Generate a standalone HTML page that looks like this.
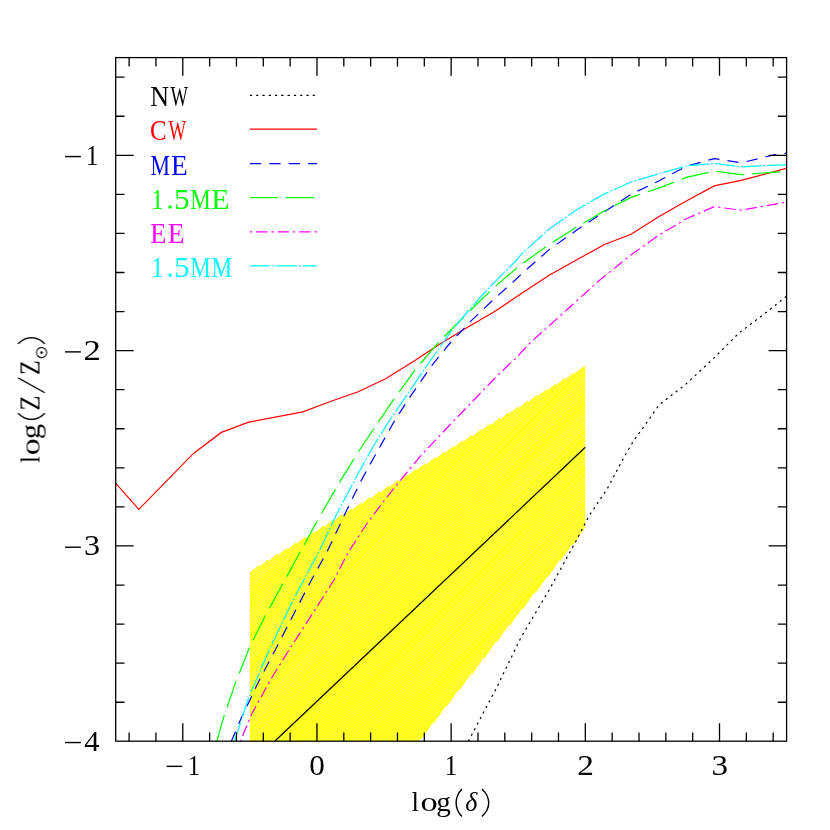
<!DOCTYPE html>
<html><head><meta charset="utf-8"><title>plot</title>
<style>
html,body{margin:0;padding:0;background:#fff;}
svg{display:block;}
text{font-family:"Liberation Serif",serif;}
</style></head><body>
<svg width="830" height="830" viewBox="0 0 830 830">
<defs>
<clipPath id="fr"><rect x="115.7" y="57.6" width="670.9" height="683.6"/></clipPath>
</defs>
<rect x="0" y="0" width="830" height="830" fill="#fff"/>
<clipPath id="band"><path d="M249.9 572.4 L259.1 564.7 L259.1 566.7 L268.4 559.0 L268.4 561.0 L277.7 553.4 L277.7 555.4 L287.0 547.7 L287.0 549.7 L296.2 542.0 L296.2 544.0 L305.5 536.4 L305.5 538.4 L314.8 530.7 L314.8 532.7 L324.0 525.0 L324.0 527.0 L333.3 519.4 L333.3 521.4 L342.6 513.7 L342.6 515.7 L351.8 508.0 L351.8 510.0 L361.1 502.4 L361.1 504.4 L370.4 496.7 L370.4 498.7 L379.7 491.0 L379.7 493.0 L388.9 485.3 L388.9 487.3 L398.2 479.7 L398.2 481.7 L407.5 474.0 L407.5 476.0 L416.7 468.3 L416.7 470.3 L426.0 462.7 L426.0 464.7 L435.3 457.0 L435.3 459.0 L444.5 451.3 L444.5 453.3 L453.8 445.7 L453.8 447.7 L463.1 440.0 L463.1 442.0 L472.4 434.3 L472.4 436.3 L481.6 428.7 L481.6 430.7 L490.9 423.0 L490.9 425.0 L500.2 417.3 L500.2 419.3 L509.4 411.7 L509.4 413.7 L518.7 406.0 L518.7 408.0 L528.0 400.3 L528.0 402.3 L537.2 394.7 L537.2 396.7 L546.5 389.0 L546.5 391.0 L555.8 383.3 L555.8 385.3 L565.1 377.7 L565.1 379.7 L574.3 372.0 L574.3 374.0 L583.6 366.3 L583.6 368.3 L585.3 365.3 L585.3 527.4 L572.7 545.6 L572.7 543.6 L560.0 561.8 L560.0 559.8 L547.4 578.0 L547.4 576.0 L534.7 594.2 L534.7 592.2 L522.1 610.4 L522.1 608.4 L509.4 626.6 L509.4 624.6 L496.8 642.8 L496.8 640.8 L484.1 659.0 L484.1 657.0 L471.5 675.2 L471.5 673.2 L458.8 691.4 L458.8 689.4 L446.2 707.6 L446.2 705.6 L433.5 723.9 L433.5 721.9 L420.9 740.1 L420.9 738.1 L419.1 741.3 L249.9 741.3Z"/></clipPath>
<g clip-path="url(#fr)"><path d="M73.7 741.3 L455.0 360.0 M76.4 741.3 L457.7 360.0 M79.2 741.3 L460.5 360.0 M81.9 741.3 L463.2 360.0 M84.6 741.3 L465.9 360.0 M87.4 741.3 L468.7 360.0 M90.1 741.3 L471.4 360.0 M92.8 741.3 L474.1 360.0 M95.5 741.3 L476.8 360.0 M98.3 741.3 L479.6 360.0 M101.0 741.3 L482.3 360.0 M103.7 741.3 L485.0 360.0 M106.5 741.3 L487.8 360.0 M109.2 741.3 L490.5 360.0 M111.9 741.3 L493.2 360.0 M114.7 741.3 L496.0 360.0 M117.4 741.3 L498.7 360.0 M120.1 741.3 L501.4 360.0 M122.8 741.3 L504.1 360.0 M125.6 741.3 L506.9 360.0 M128.3 741.3 L509.6 360.0 M131.0 741.3 L512.3 360.0 M133.8 741.3 L515.1 360.0 M136.5 741.3 L517.8 360.0 M139.2 741.3 L520.5 360.0 M142.0 741.3 L523.3 360.0 M144.7 741.3 L526.0 360.0 M147.4 741.3 L528.7 360.0 M150.1 741.3 L531.4 360.0 M152.9 741.3 L534.2 360.0 M155.6 741.3 L536.9 360.0 M158.3 741.3 L539.6 360.0 M161.1 741.3 L542.4 360.0 M163.8 741.3 L545.1 360.0 M166.5 741.3 L547.8 360.0 M169.3 741.3 L550.6 360.0 M172.0 741.3 L553.3 360.0 M174.7 741.3 L556.0 360.0 M177.4 741.3 L558.7 360.0 M180.2 741.3 L561.5 360.0 M182.9 741.3 L564.2 360.0 M185.6 741.3 L566.9 360.0 M188.4 741.3 L569.7 360.0 M191.1 741.3 L572.4 360.0 M193.8 741.3 L575.1 360.0 M196.6 741.3 L577.9 360.0 M199.3 741.3 L580.6 360.0 M202.0 741.3 L583.3 360.0 M204.7 741.3 L586.0 360.0 M207.5 741.3 L588.8 360.0 M210.2 741.3 L591.5 360.0 M212.9 741.3 L594.2 360.0 M215.7 741.3 L597.0 360.0 M218.4 741.3 L599.7 360.0 M221.1 741.3 L602.4 360.0 M223.9 741.3 L605.2 360.0 M226.6 741.3 L607.9 360.0 M229.3 741.3 L610.6 360.0 M232.0 741.3 L613.3 360.0 M234.8 741.3 L616.1 360.0 M237.5 741.3 L618.8 360.0 M240.2 741.3 L621.5 360.0 M243.0 741.3 L624.3 360.0 M245.7 741.3 L627.0 360.0 M248.4 741.3 L629.7 360.0 M251.2 741.3 L632.5 360.0 M253.9 741.3 L635.2 360.0 M256.6 741.3 L637.9 360.0 M259.3 741.3 L640.6 360.0 M262.1 741.3 L643.4 360.0 M264.8 741.3 L646.1 360.0 M267.5 741.3 L648.8 360.0 M270.3 741.3 L651.6 360.0 M273.0 741.3 L654.3 360.0 M275.7 741.3 L657.0 360.0 M278.5 741.3 L659.8 360.0 M281.2 741.3 L662.5 360.0 M283.9 741.3 L665.2 360.0 M286.6 741.3 L667.9 360.0 M289.4 741.3 L670.7 360.0 M292.1 741.3 L673.4 360.0 M294.8 741.3 L676.1 360.0 M297.6 741.3 L678.9 360.0 M300.3 741.3 L681.6 360.0 M303.0 741.3 L684.3 360.0 M305.8 741.3 L687.1 360.0 M308.5 741.3 L689.8 360.0 M311.2 741.3 L692.5 360.0 M313.9 741.3 L695.2 360.0 M316.7 741.3 L698.0 360.0 M319.4 741.3 L700.7 360.0 M322.1 741.3 L703.4 360.0 M324.9 741.3 L706.2 360.0 M327.6 741.3 L708.9 360.0 M330.3 741.3 L711.6 360.0 M333.1 741.3 L714.4 360.0 M335.8 741.3 L717.1 360.0 M338.5 741.3 L719.8 360.0 M341.2 741.3 L722.5 360.0 M344.0 741.3 L725.3 360.0 M346.7 741.3 L728.0 360.0 M349.4 741.3 L730.7 360.0 M352.2 741.3 L733.5 360.0 M354.9 741.3 L736.2 360.0 M357.6 741.3 L738.9 360.0 M360.4 741.3 L741.7 360.0 M363.1 741.3 L744.4 360.0 M365.8 741.3 L747.1 360.0 M368.5 741.3 L749.8 360.0 M371.3 741.3 L752.6 360.0 M374.0 741.3 L755.3 360.0 M376.7 741.3 L758.0 360.0 M379.5 741.3 L760.8 360.0 M382.2 741.3 L763.5 360.0 M384.9 741.3 L766.2 360.0 M387.7 741.3 L769.0 360.0 M390.4 741.3 L771.7 360.0 M393.1 741.3 L774.4 360.0 M395.8 741.3 L777.1 360.0 M398.6 741.3 L779.9 360.0 M401.3 741.3 L782.6 360.0 M404.0 741.3 L785.3 360.0 M406.8 741.3 L788.1 360.0 M409.5 741.3 L790.8 360.0 M412.2 741.3 L793.5 360.0 M415.0 741.3 L796.3 360.0 M417.7 741.3 L799.0 360.0 M420.4 741.3 L801.7 360.0 M423.1 741.3 L804.4 360.0" stroke="#ffff00" stroke-width="1.65" fill="none" clip-path="url(#band)"/></g>
<path d="M274.7 741.3 L585.3 447.3" stroke="#000" stroke-width="1.20" fill="none" clip-path="url(#fr)"/>
<path d="M468.3 741.2 L495.8 689.3 L521.0 637.4 L548.8 590.6 L576.6 540.0 L589.0 515.9 L607.2 488.9 L624.6 456.1 L634.2 439.8 L644.8 425.3 L659.3 404.6 L685.3 384.7 L712.3 359.6 L739.3 332.7 L763.4 314.7 L786.5 296.2" stroke="#000000" stroke-width="1.20" fill="none" stroke-dasharray="2.2 4.08" clip-path="url(#fr)"/>
<path d="M115.6 483.2 L138.8 509.3 L193.5 453.4 L221.3 432.4 L248.7 422.2 L302.9 411.8 L330.3 401.5 L357.6 392.0 L385.6 378.8 L413.3 361.4 L439.9 344.0 L465.5 328.6 L494.2 311.8 L522.5 292.8 L549.2 275.2 L576.8 259.8 L604.5 244.5 L631.1 234.2 L658.7 216.8 L686.3 201.0 L714.2 185.9 L741.2 180.3 L787.1 168.2" stroke="#ff0000" stroke-width="1.20" fill="none" clip-path="url(#fr)"/>
<path d="M231.1 741.8 L240.7 719.3 L259.2 680.4 L277.6 645.5 L296.0 609.7 L311.4 580.0 L327.4 551.1 L346.8 510.1 L361.2 480.4 L376.5 452.8 L395.0 420.0 L411.2 395.2 L431.7 365.5 L450.1 343.0 L471.6 320.4 L493.1 299.9 L513.6 281.5 L522.5 273.1 L549.2 249.6 L576.8 230.1 L604.5 211.7 L631.1 194.3 L658.7 181.0 L686.3 166.3 L714.2 158.6 L741.2 162.8 L774.9 154.7 L787.1 153.2" stroke="#0000ff" stroke-width="1.20" fill="none" stroke-dasharray="11.3 8.1" clip-path="url(#fr)"/>
<path d="M216.6 741.8 L224.3 715.2 L235.6 682.4 L249.9 646.6 L265.3 615.8 L283.7 582.0 L300.7 551.1 L322.2 512.2 L340.7 480.4 L359.1 450.7 L379.6 420.0 L393.8 399.3 L415.3 369.6 L438.9 341.9 L458.3 322.5 L477.8 303.0 L498.3 283.6 L522.5 263.5 L549.2 244.5 L576.8 227.0 L604.5 210.7 L631.1 197.4 L658.7 188.1 L686.3 177.4 L714.2 171.1 L741.2 174.6 L782.6 171.7 L787.0 171.0" stroke="#00ff00" stroke-width="1.20" fill="none" stroke-dasharray="28 8" clip-path="url(#fr)"/>
<path d="M240.3 741.8 L251.0 715.2 L271.4 678.3 L291.9 645.5 L312.4 613.8 L333.9 580.0 L347.8 553.1 L366.3 524.5 L384.7 499.9 L401.1 479.4 L421.6 454.8 L445.0 430.0 L470.6 403.4 L497.2 375.7 L515.7 358.3 L530.0 343.0 L566.6 310.0 L598.3 281.3 L631.1 254.7 L658.7 235.3 L686.3 218.7 L714.2 206.7 L741.2 210.2 L787.0 202.0" stroke="#ff00ff" stroke-width="1.20" fill="none" stroke-dasharray="2.3 3.9 11.4 3.9" clip-path="url(#fr)"/>
<path d="M234.2 741.8 L248.9 696.8 L269.4 649.6 L291.9 602.5 L303.8 580.0 L319.2 551.1 L337.6 512.2 L357.1 475.3 L372.4 447.7 L389.8 420.0 L404.0 399.3 L427.6 364.5 L450.1 332.7 L470.6 308.1 L491.1 285.6 L515.7 261.0 L522.5 253.0 L549.2 229.1 L576.8 209.6 L604.5 193.9 L631.1 182.0 L658.7 173.8 L686.3 165.9 L714.2 163.4 L741.2 166.8 L787.1 164.7" stroke="#00ffff" stroke-width="1.20" fill="none" stroke-dasharray="20.5 2 1.8 2" clip-path="url(#fr)"/>
<rect x="115.7" y="57.6" width="670.9" height="683.6" fill="none" stroke="#000" stroke-width="1.30"/>
<path d="M129.12 741.30 v-8.80 M129.12 57.65 v8.80 M155.95 741.30 v-8.80 M155.95 57.65 v8.80 M182.79 741.30 v-18.00 M182.79 57.65 v18.00 M209.63 741.30 v-8.80 M209.63 57.65 v8.80 M236.46 741.30 v-8.80 M236.46 57.65 v8.80 M263.30 741.30 v-8.80 M263.30 57.65 v8.80 M290.13 741.30 v-8.80 M290.13 57.65 v8.80 M316.97 741.30 v-18.00 M316.97 57.65 v18.00 M343.81 741.30 v-8.80 M343.81 57.65 v8.80 M370.64 741.30 v-8.80 M370.64 57.65 v8.80 M397.48 741.30 v-8.80 M397.48 57.65 v8.80 M424.31 741.30 v-8.80 M424.31 57.65 v8.80 M451.15 741.30 v-18.00 M451.15 57.65 v18.00 M477.99 741.30 v-8.80 M477.99 57.65 v8.80 M504.82 741.30 v-8.80 M504.82 57.65 v8.80 M531.66 741.30 v-8.80 M531.66 57.65 v8.80 M558.49 741.30 v-8.80 M558.49 57.65 v8.80 M585.33 741.30 v-18.00 M585.33 57.65 v18.00 M612.17 741.30 v-8.80 M612.17 57.65 v8.80 M639.00 741.30 v-8.80 M639.00 57.65 v8.80 M665.84 741.30 v-8.80 M665.84 57.65 v8.80 M692.67 741.30 v-8.80 M692.67 57.65 v8.80 M719.51 741.30 v-18.00 M719.51 57.65 v18.00 M746.35 741.30 v-8.80 M746.35 57.65 v8.80 M773.18 741.30 v-8.80 M773.18 57.65 v8.80 M115.70 702.23 h8.80 M786.60 702.23 h-8.80 M115.70 663.17 h8.80 M786.60 663.17 h-8.80 M115.70 624.10 h8.80 M786.60 624.10 h-8.80 M115.70 585.04 h8.80 M786.60 585.04 h-8.80 M115.70 545.97 h18.00 M786.60 545.97 h-18.00 M115.70 506.91 h8.80 M786.60 506.91 h-8.80 M115.70 467.84 h8.80 M786.60 467.84 h-8.80 M115.70 428.77 h8.80 M786.60 428.77 h-8.80 M115.70 389.71 h8.80 M786.60 389.71 h-8.80 M115.70 350.64 h18.00 M786.60 350.64 h-18.00 M115.70 311.58 h8.80 M786.60 311.58 h-8.80 M115.70 272.51 h8.80 M786.60 272.51 h-8.80 M115.70 233.45 h8.80 M786.60 233.45 h-8.80 M115.70 194.38 h8.80 M786.60 194.38 h-8.80 M115.70 155.31 h18.00 M786.60 155.31 h-18.00 M115.70 116.25 h8.80 M786.60 116.25 h-8.80 M115.70 77.18 h8.80 M786.60 77.18 h-8.80" stroke="#000" stroke-width="1.30" fill="none"/>
<g opacity="0.999">
<rect x="166.60" y="765.65" width="15.50" height="1.40" fill="#000"/>
<text transform="translate(187.68 775.00) scale(0.8401 1.0000)" font-size="29" fill="#000">1</text>
<text transform="translate(309.22 775.00) scale(1.0735 1.0000)" font-size="29" fill="#000">0</text>
<text transform="translate(444.83 775.00) scale(0.8596 1.0000)" font-size="29" fill="#000">1</text>
<text transform="translate(577.17 775.00) scale(1.1494 1.0000)" font-size="29" fill="#000">2</text>
<text transform="translate(711.44 775.00) scale(1.1411 1.0000)" font-size="29" fill="#000">3</text>
<rect x="65.00" y="155.86" width="15.90" height="1.40" fill="#000"/>
<text transform="translate(85.96 165.01) scale(0.8499 1.0000)" font-size="29" fill="#000">1</text>
<rect x="65.00" y="351.19" width="15.90" height="1.40" fill="#000"/>
<text transform="translate(83.61 360.14) scale(1.1923 1.0000)" font-size="29" fill="#000">2</text>
<rect x="65.00" y="546.52" width="15.90" height="1.40" fill="#000"/>
<text transform="translate(83.89 555.17) scale(1.1078 1.0000)" font-size="29" fill="#000">3</text>
<rect x="65.00" y="741.85" width="15.90" height="1.40" fill="#000"/>
<text transform="translate(84.22 750.90) scale(1.0508 1.0000)" font-size="29" fill="#000">4</text>
<text transform="translate(411.56 810.90) scale(0.9673 1.0000)" font-size="27.8" fill="#000">l</text>
<text transform="translate(420.59 810.90) scale(1.2386 1.0000)" font-size="27.8" fill="#000">o</text>
<text transform="translate(436.18 810.90) scale(1.0488 1.0000)" font-size="27.8" fill="#000">g</text>
<path d="M461.90 788.90 C454.17 797.21 454.17 808.29 461.90 816.60" stroke="#000" stroke-width="1.40" fill="none"/>
<text transform="translate(465.24 810.92) scale(0.9373 1.0046)" font-size="27.8" fill="#000" font-style="italic">δ</text>
<path d="M481.90 788.90 C490.97 797.21 490.97 808.29 481.90 816.60" stroke="#000" stroke-width="1.40" fill="none"/>
<g transform="translate(39.5 0) rotate(-90)"><text transform="translate(-462.90 0.00) scale(0.8917 1.0000)" font-size="27.8" fill="#000">l</text><text transform="translate(-455.29 0.00) scale(1.2217 1.0000)" font-size="27.8" fill="#000">o</text><text transform="translate(-439.19 0.00) scale(1.1062 1.0000)" font-size="27.8" fill="#000">g</text><path d="M-413.20 -21.40 C-421.47 -13.39 -421.47 -2.71 -413.20 5.30" stroke="#000" stroke-width="1.40" fill="none"/><text transform="translate(-410.45 0.00) scale(0.8394 1.0000)" font-size="29.2" fill="#000">Z</text><path d="M-392.70 5.30 L-377.90 -21.40" stroke="#000" stroke-width="1.30" fill="none"/><text transform="translate(-374.93 0.00) scale(0.8259 1.0000)" font-size="29.2" fill="#000">Z</text><path d="M-343.90 -21.40 C-335.63 -13.39 -335.63 -2.71 -343.90 5.30" stroke="#000" stroke-width="1.40" fill="none"/><circle cx="-352.6" cy="2.1" r="5.1" fill="none" stroke="#000" stroke-width="1.1"/><circle cx="-352.6" cy="2.1" r="1.35" fill="#000"/></g>
<text transform="translate(150.27 106.30) scale(0.8918 1.0000)" font-size="29.2" fill="#000000">N</text>
<text transform="translate(170.50 106.30) scale(0.6362 1.0000)" font-size="29.2" fill="#000000">W</text>
<path d="M249.9 95.4 H317.0" stroke="#000000" stroke-width="1.20" fill="none" stroke-dasharray="2.2 4.08"/>
<text transform="translate(149.98 140.00) scale(0.8517 1.0000)" font-size="29.2" fill="#ff0000">C</text>
<text transform="translate(168.50 140.00) scale(0.6399 1.0000)" font-size="29.2" fill="#ff0000">W</text>
<path d="M249.9 129.1 H317.0" stroke="#ff0000" stroke-width="1.20" fill="none"/>
<text transform="translate(150.39 174.60) scale(0.7491 1.0000)" font-size="29.2" fill="#0000ff">M</text>
<text transform="translate(171.03 174.60) scale(0.9363 1.0000)" font-size="29.2" fill="#0000ff">E</text>
<path d="M249.9 163.7 H317.0" stroke="#0000ff" stroke-width="1.20" fill="none" stroke-dasharray="11.3 8.1"/>
<text transform="translate(151.18 208.60) scale(0.8401 1.0000)" font-size="29" fill="#00ff00">1</text>
<rect x="168.50" y="205.40" width="3.30" height="3.2" rx="1.2" fill="#00ff00"/>
<text transform="translate(173.99 208.60) scale(1.0781 1.0000)" font-size="29" fill="#00ff00">5</text>
<text transform="translate(190.35 208.60) scale(0.7903 1.0000)" font-size="29.2" fill="#00ff00">M</text>
<text transform="translate(211.37 208.60) scale(1.0197 1.0000)" font-size="29.2" fill="#00ff00">E</text>
<path d="M249.9 197.7 H317.0" stroke="#00ff00" stroke-width="1.20" fill="none" stroke-dasharray="28 8"/>
<text transform="translate(150.26 242.70) scale(0.9107 1.0000)" font-size="29.2" fill="#ff00ff">E</text>
<text transform="translate(167.73 242.70) scale(0.9363 1.0000)" font-size="29.2" fill="#ff00ff">E</text>
<path d="M249.9 231.8 H317.0" stroke="#ff00ff" stroke-width="1.20" fill="none" stroke-dasharray="2.3 3.9 11.4 3.9"/>
<text transform="translate(151.18 276.80) scale(0.8401 1.0000)" font-size="29" fill="#00ffff">1</text>
<rect x="168.50" y="273.60" width="3.30" height="3.2" rx="1.2" fill="#00ffff"/>
<text transform="translate(173.99 276.80) scale(1.0781 1.0000)" font-size="29" fill="#00ffff">5</text>
<text transform="translate(190.35 276.80) scale(0.7903 1.0000)" font-size="29.2" fill="#00ffff">M</text>
<text transform="translate(211.55 276.80) scale(0.7944 1.0000)" font-size="29.2" fill="#00ffff">M</text>
<path d="M249.9 265.9 H317.0" stroke="#00ffff" stroke-width="1.20" fill="none" stroke-dasharray="20.5 2 1.8 2"/>
</g>
</svg></body></html>
